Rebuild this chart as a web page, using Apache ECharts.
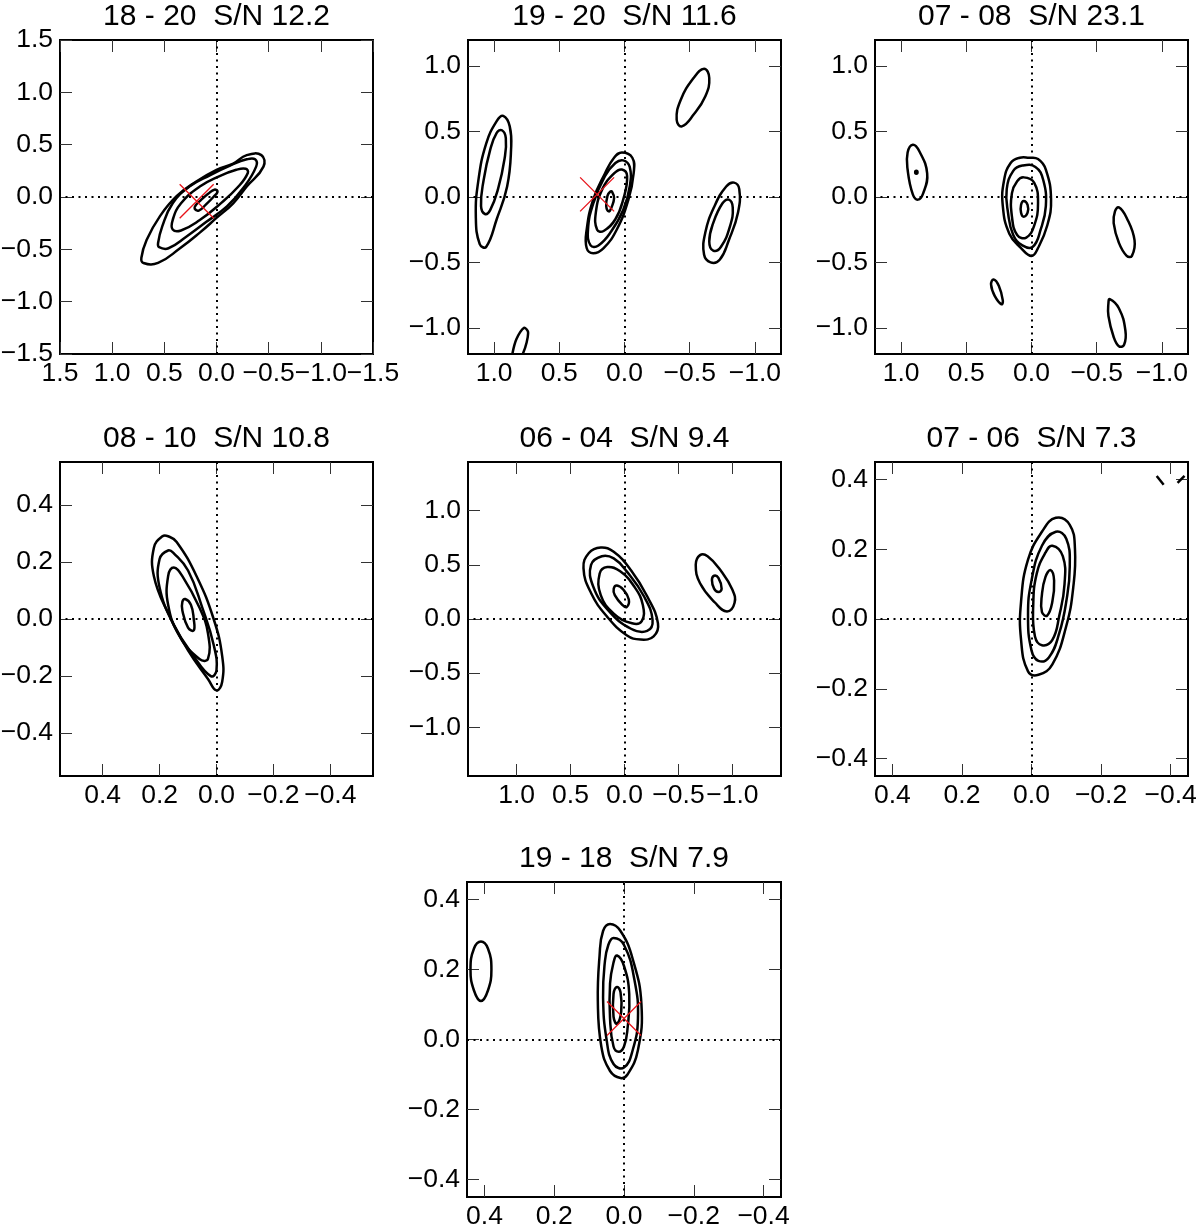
<!DOCTYPE html>
<html><head><meta charset="utf-8">
<script src="https://cdn.jsdelivr.net/npm/echarts@6/dist/echarts.min.js"></script>
<style>html,body{margin:0;padding:0;background:#fff}#c{width:1200px;height:1227px}</style>
</head><body><div id="c"></div>
<script>
// ---------- data ----------
const panelTitles = ['18 - 20  S/N 12.2', '19 - 20  S/N 11.6', '07 - 08  S/N 23.1',
  '08 - 10  S/N 10.8', '06 - 04  S/N 9.4', '07 - 06  S/N 7.3', '19 - 18  S/N 7.9'];
const panelRanges = [1.5, 1.2, 1.2, 0.55, 1.45, 0.45, 0.45];
const ticksA = [-1.5, -1.0, -0.5, 0, 0.5, 1.0, 1.5];
const ticksB = [-1.0, -0.5, 0, 0.5, 1.0];
const ticksC = [-0.4, -0.2, 0, 0.2, 0.4];
const panelTicks = [ticksA, ticksB, ticksB, ticksC, ticksB, ticksC, ticksC];

const panel1Contours = [
  [[0.70,-0.63],[0.56,-0.63],[0.35,-0.49],[0.16,-0.34],[0.0,-0.20],[-0.16,-0.06],[-0.29,0.10],[-0.45,0.29],[-0.43,0.40],[-0.29,0.40],[-0.16,0.32],[0.0,0.26],[0.19,0.15],[0.38,0.01],[0.54,-0.18],[0.67,-0.41],[0.72,-0.58]],
  [[0.55,-0.48],[0.46,-0.49],[0.29,-0.38],[0.10,-0.24],[-0.10,-0.09],[-0.26,0.09],[-0.38,0.29],[-0.37,0.36],[-0.29,0.36],[-0.13,0.30],[0.06,0.21],[0.26,0.10],[0.42,-0.06],[0.52,-0.28],[0.56,-0.44]],
  [[0.42,-0.31],[0.34,-0.32],[0.16,-0.22],[-0.03,-0.07],[-0.21,0.10],[-0.30,0.23],[-0.28,0.27],[-0.19,0.26],[-0.03,0.20],[0.16,0.10],[0.34,-0.06],[0.42,-0.22]],
  [[0.21,-0.11],[0.17,-0.13],[0.10,-0.07],[0.03,0.0],[-0.01,0.05],[0.02,0.07],[0.08,0.03],[0.15,-0.03],[0.20,-0.08]]
];
const panel2Contours = [
  [[0.02,0.34],[-0.06,0.30],[-0.07,0.18],[-0.03,-0.02],[0.06,-0.25],[0.16,-0.39],[0.24,-0.43],[0.29,-0.39],[0.29,-0.25],[0.24,-0.02],[0.15,0.18],[0.08,0.30]],
  [[0.01,0.28],[-0.04,0.23],[-0.04,0.08],[0.01,-0.10],[0.10,-0.26],[0.20,-0.37],[0.26,-0.37],[0.28,-0.25],[0.24,-0.05],[0.15,0.16],[0.07,0.26]],
  [[0.02,0.21],[-0.02,0.16],[0.01,-0.02],[0.07,-0.17],[0.16,-0.26],[0.21,-0.25],[0.22,-0.12],[0.17,0.06],[0.08,0.18]],
  [[0.095,0.04],[0.08,-0.01],[0.10,-0.08],[0.12,-0.11],[0.14,-0.07],[0.13,0.01],[0.11,0.04]],
  [[0.93,0.62],[0.88,0.54],[0.87,0.36],[0.90,0.08],[0.98,-0.17],[1.06,-0.38],[1.11,-0.36],[1.14,-0.15],[1.12,0.13],[1.06,0.41],[0.98,0.58]],
  [[0.94,0.51],[0.91,0.45],[0.92,0.29],[0.97,0.06],[1.03,-0.10],[1.07,-0.13],[1.10,-0.07],[1.08,0.13],[1.03,0.36],[0.98,0.49]],
  [[-0.61,0.98],[-0.65,0.91],[-0.62,0.77],[-0.53,0.63],[-0.44,0.54],[-0.40,0.59],[-0.43,0.74],[-0.53,0.91]],
  [[-0.84,0.11],[-0.88,0.06],[-0.87,-0.12],[-0.80,-0.33],[-0.73,-0.48],[-0.66,-0.50],[-0.61,-0.44],[-0.62,-0.27],[-0.69,-0.07],[-0.78,0.08]],
  [[-0.80,-0.02],[-0.83,-0.08],[-0.81,-0.22],[-0.74,-0.38],[-0.68,-0.41],[-0.65,-0.34],[-0.68,-0.20],[-0.75,-0.05]]
];
const panel3Contours = [
  [[0.09,0.30],[0.02,0.30],[-0.05,0.29],[-0.11,0.21],[-0.15,-0.02],[-0.12,-0.22],[-0.05,-0.39],[0.0,-0.45],[0.08,-0.39],[0.17,-0.28],[0.22,-0.07],[0.21,0.13],[0.16,0.26]],
  [[0.07,0.24],[-0.03,0.23],[-0.09,0.13],[-0.11,-0.07],[-0.07,-0.25],[-0.01,-0.38],[0.07,-0.37],[0.14,-0.29],[0.18,-0.12],[0.19,0.06],[0.14,0.20]],
  [[0.06,0.15],[-0.02,0.11],[-0.05,-0.05],[-0.02,-0.22],[0.04,-0.31],[0.11,-0.29],[0.15,-0.15],[0.15,0.03],[0.11,0.12]],
  [[0.06,-0.03],[0.03,-0.06],[0.03,-0.12],[0.06,-0.15],[0.08,-0.12],[0.08,-0.06]],
  [[0.91,0.40],[0.86,0.35],[0.80,0.18],[0.83,0.03],[0.87,-0.02],[0.91,0.02],[0.95,0.21],[0.95,0.34]],
  [[0.883,0.20],[0.874,0.189],[0.883,0.178],[0.892,0.189]],
  [[0.29,-0.63],[0.25,-0.68],[0.22,-0.79],[0.23,-0.82],[0.28,-0.76],[0.31,-0.67]],
  [[-0.67,-0.08],[-0.73,-0.16],[-0.79,-0.33],[-0.77,-0.45],[-0.73,-0.45],[-0.67,-0.35],[-0.63,-0.20],[-0.64,-0.11]],
  [[-0.60,-0.78],[-0.67,-0.85],[-0.72,-1.02],[-0.71,-1.13],[-0.67,-1.14],[-0.63,-1.07],[-0.59,-0.91],[-0.59,-0.81]]
];
const panel4Contours = [
  [[0.19,0.29],[0.22,0.25],[0.22,0.15],[0.17,0.02],[0.10,-0.11],[0.03,-0.21],[0.0,-0.25],[-0.02,-0.22],[-0.02,-0.13],[0.01,0.0],[0.07,0.15],[0.14,0.27],[0.17,0.29]],
  [[0.17,0.24],[0.20,0.21],[0.20,0.11],[0.15,-0.02],[0.08,-0.13],[0.02,-0.20],[0.0,-0.18],[0.01,-0.09],[0.05,0.04],[0.10,0.17],[0.15,0.23]],
  [[0.15,0.18],[0.17,0.15],[0.17,0.05],[0.13,-0.06],[0.06,-0.14],[0.03,-0.14],[0.03,-0.05],[0.06,0.04],[0.12,0.15]],
  [[0.11,0.07],[0.09,0.05],[0.08,0.0],[0.08,-0.04],[0.10,-0.03],[0.12,0.03],[0.12,0.06]]
];
const panel5Contours = [
  [[0.22,0.66],[0.33,0.61],[0.38,0.47],[0.31,0.24],[0.16,0.02],[-0.02,-0.15],[-0.15,-0.19],[-0.27,-0.16],[-0.31,-0.04],[-0.21,0.21],[-0.06,0.45],[0.10,0.62]],
  [[0.21,0.58],[0.31,0.50],[0.29,0.30],[0.15,0.08],[-0.06,-0.09],[-0.21,-0.11],[-0.26,-0.01],[-0.18,0.21],[-0.02,0.44],[0.10,0.56]],
  [[0.16,0.48],[0.23,0.42],[0.22,0.22],[0.10,0.05],[-0.07,-0.04],[-0.16,-0.02],[-0.17,0.13],[-0.09,0.30],[0.04,0.44]],
  [[0.07,0.31],[0.01,0.27],[-0.04,0.18],[-0.02,0.11],[0.02,0.13],[0.09,0.22],[0.10,0.28]],
  [[-0.70,0.59],[-0.66,0.50],[-0.70,0.33],[-0.84,0.15],[-0.95,0.07],[-1.02,0.15],[-1.00,0.27],[-0.89,0.45],[-0.77,0.58]],
  [[-0.83,0.40],[-0.87,0.38],[-0.90,0.28],[-0.87,0.25],[-0.83,0.28],[-0.81,0.36]]
];
const panel6Contours = [
  [[-0.07,0.29],[-0.11,0.27],[-0.125,0.20],[-0.12,0.09],[-0.10,-0.02],[-0.06,-0.13],[-0.02,-0.16],[0.01,-0.15],[0.03,-0.06],[0.03,0.05],[0.01,0.17],[-0.03,0.25]],
  [[-0.07,0.25],[-0.10,0.23],[-0.11,0.15],[-0.10,0.05],[-0.08,-0.04],[-0.05,-0.11],[-0.02,-0.12],[0.0,-0.09],[0.01,0.01],[0.0,0.11],[-0.03,0.21]],
  [[-0.06,0.21],[-0.09,0.18],[-0.095,0.10],[-0.08,0.01],[-0.06,-0.06],[-0.03,-0.075],[-0.01,-0.05],[-0.005,0.04],[-0.015,0.13],[-0.04,0.19]],
  [[-0.055,0.14],[-0.065,0.11],[-0.06,0.05],[-0.045,0.01],[-0.03,0.02],[-0.03,0.07],[-0.04,0.12]]
];
const panel7Contours = [
  [[0.04,0.33],[0.01,0.31],[-0.025,0.23],[-0.05,0.10],[-0.04,-0.03],[-0.01,-0.10],[0.01,-0.11],[0.04,-0.09],[0.065,-0.02],[0.075,0.11],[0.07,0.24],[0.06,0.31]],
  [[0.03,0.29],[0.0,0.27],[-0.03,0.17],[-0.04,0.06],[-0.025,-0.03],[0.0,-0.08],[0.03,-0.07],[0.05,0.0],[0.06,0.12],[0.055,0.22],[0.045,0.27]],
  [[0.02,0.24],[0.0,0.21],[-0.015,0.13],[-0.01,0.03],[0.0,-0.02],[0.015,-0.035],[0.03,-0.02],[0.04,0.06],[0.04,0.16],[0.03,0.22]],
  [[0.02,0.15],[0.01,0.135],[0.008,0.08],[0.02,0.045],[0.03,0.065],[0.03,0.13]],
  [[0.41,0.28],[0.39,0.26],[0.38,0.20],[0.39,0.14],[0.41,0.11],[0.43,0.14],[0.44,0.20],[0.43,0.26]]
];
const panelContours = [panel1Contours, panel2Contours, panel3Contours, panel4Contours,
  panel5Contours, panel6Contours, panel7Contours];

// open (clipped / broken) contour pieces
const panel2OpenContours = [[[0.86,-1.2],[0.83,-1.09],[0.77,-1.0],[0.74,-1.03],[0.75,-1.11],[0.78,-1.2]]];
const panel6OpenContours = [[[-0.36,0.41],[-0.38,0.385]], [[-0.42,0.39],[-0.44,0.41]]];
const panelOpenContours = [[], panel2OpenContours, [], [], [], panel6OpenContours, []];

// red cross markers
const crossMarkers = [[0.19,-0.04], [0.21,0.02], null, null, null, null, [0.0,0.06]];

// ---------- layout ----------
const gridBoxes = [
  {left:60, top:40, width:313, height:314},
  {left:468, top:40, width:313, height:314},
  {left:875, top:40, width:313, height:314},
  {left:60, top:462, width:313, height:314},
  {left:468, top:462, width:313, height:314},
  {left:875, top:462, width:313, height:314},
  {left:467, top:882, width:314, height:315}
];
const FONT = '"Liberation Sans", Arial, Helvetica, sans-serif';
const fmt = v => (v < 0 ? '\u2212' : '') + Math.abs(v).toFixed(1);

const option = {
  animation: false,
  backgroundColor: '#fff',
  title: [], grid: [], xAxis: [], yAxis: [], series: []
};

function makeRender(list, closed) {
  return function (params, api) {
    const c = list[api.value(2)];
    const pts = c.map(p => api.coord(p));
    return {
      type: closed ? 'polygon' : 'polyline',
      shape: { points: pts, smooth: closed ? 0.45 : 0.3 },
      style: { fill: 'none', stroke: '#000', lineWidth: 2.5 }
    };
  };
}

for (let i = 0; i < 7; i++) {
  const g = gridBoxes[i];
  const r = panelRanges[i];
  const ticks = panelTicks[i];
  option.title.push({
    text: panelTitles[i], left: g.left + g.width / 2, top: g.top - 38,
    textAlign: 'center', padding: 0,
    textStyle: { fontSize: 30, fontWeight: 'normal', color: '#000', fontFamily: FONT }
  });
  option.grid.push({
    left: g.left, top: g.top, width: g.width, height: g.height,
    show: true, borderColor: '#000', borderWidth: 2, backgroundColor: 'transparent',
    containLabel: false, outerBoundsMode: 'none'
  });
  const tick = { show: true, inside: true, length: 12, lineStyle: { color: '#333', width: 1 }, customValues: ticks };
  const lab = { show: true, customValues: ticks, formatter: fmt, fontSize: 26.5, color: '#000', fontFamily: FONT, margin: 6 };
  ['bottom', 'top'].forEach((pos, k) => {
    option.xAxis.push({
      gridIndex: i, type: 'value', min: -r, max: r, inverse: true, position: pos,
      axisLine: { show: false, onZero: false }, splitLine: { show: false },
      axisTick: tick, axisLabel: k === 0 ? lab : { show: false }
    });
  });
  ['left', 'right'].forEach((pos, k) => {
    option.yAxis.push({
      gridIndex: i, type: 'value', min: -r, max: r, position: pos,
      axisLine: { show: false, onZero: false }, splitLine: { show: false },
      axisTick: tick, axisLabel: k === 0 ? Object.assign({}, lab, { margin: 7 }) : { show: false }
    });
  });
  const list = panelContours[i];
  option.series.push({
    type: 'custom', xAxisIndex: 2 * i, yAxisIndex: 2 * i, silent: true, clip: true,
    data: list.map((c, k) => [c[0][0], c[0][1], k]),
    renderItem: makeRender(list, true),
    markLine: {
      silent: true, symbol: ['none', 'none'], label: { show: false }, animation: false,
      lineStyle: { color: '#000', type: [2, 4.5], width: 2 },
      emphasis: { disabled: true },
      data: [{ xAxis: 0 }, { yAxis: 0 }]
    }
  });
  const open = panelOpenContours[i];
  if (open.length) {
    option.series.push({
      type: 'custom', xAxisIndex: 2 * i, yAxisIndex: 2 * i, silent: true, clip: true,
      data: open.map((c, k) => [c[0][0], c[0][1], k]),
      renderItem: makeRender(open, false)
    });
  }
  if (crossMarkers[i]) {
    option.series.push({
      type: 'scatter', xAxisIndex: 2 * i, yAxisIndex: 2 * i, silent: true,
      data: [crossMarkers[i]],
      symbol: 'path://M0 0L10 10M10 0L0 10', symbolSize: 34,
      itemStyle: { color: 'none', borderColor: '#e8141a', borderWidth: 1.3, opacity: 1 }
    });
  }
}

const chart = echarts.init(document.getElementById('c'), null, { renderer: 'canvas', width: 1200, height: 1227 });
chart.setOption(option);
</script>
</body></html>
